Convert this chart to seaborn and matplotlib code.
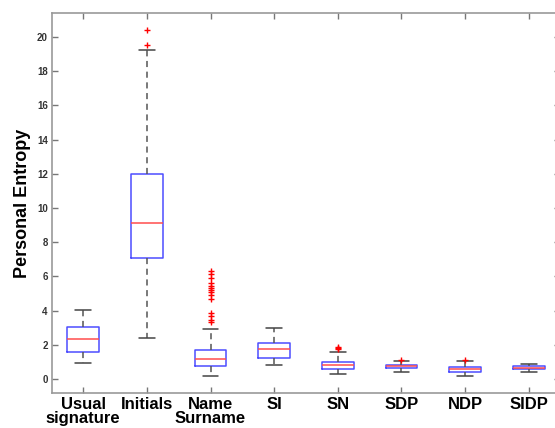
import numpy as np
import pandas as pd
import matplotlib
matplotlib.use("Agg")
import matplotlib.pyplot as plt
import seaborn as sns

categories = ["Usual\nsignature", "Initials", "Name\nSurname", "SI", "SN", "SDP", "NDP", "SIDP"]
whisker_low = [0.95, 2.42, 0.17, 0.82, 0.27, 0.43, 0.19, 0.41]
q1 = [1.58, 7.05, 0.74, 1.23, 0.56, 0.62, 0.43, 0.56]
median = [2.34, 9.14, 1.19, 1.75, 0.80, 0.74, 0.56, 0.66]
q3 = [3.04, 11.99, 1.68, 2.08, 0.97, 0.84, 0.70, 0.74]
whisker_high = [4.03, 19.24, 2.92, 3.00, 1.58, 1.07, 1.07, 0.90]

outlier_cat = ["Initials", "Initials"] + ["Name\nSurname"] * 14 + ["SN"] * 3 + ["SDP", "NDP"]
outlier_val = [20.4, 19.5,
               6.32, 6.14, 5.88, 5.59, 5.43, 5.30, 5.20, 5.10, 4.90, 4.68, 3.84, 3.70, 3.45, 3.33,
               1.75, 1.80, 1.86, 1.10, 1.13]

rows = []
for c, a, b, m, d, e in zip(categories, whisker_low, q1, median, q3, whisker_high):
    for v in (a, b, m, d, e):
        rows.append({"cat": c, "val": v})
box_df = pd.DataFrame(rows)
out_df = pd.DataFrame({"cat": outlier_cat, "val": outlier_val})

sns.set_theme(style="white")
plt.rcParams["font.family"] = ["Liberation Sans", "DejaVu Sans"]

W, H = 555, 428
fig = plt.figure(figsize=(W / 100, H / 100), dpi=100)
ax = fig.add_axes([52 / W, (H - 393) / H, (560 - 52) / W, (393 - 13) / H])

sns.boxplot(data=box_df, x="cat", y="val", order=categories, whis=np.inf, width=0.5,
            fill=False, ax=ax,
            boxprops=dict(color="#4d4dff", linewidth=1.1),
            medianprops=dict(color="#ff4d4d", linewidth=1.1),
            whiskerprops=dict(color="#555555", linestyle=(0, (4, 3)), linewidth=1.1),
            capprops=dict(color="#444444", linewidth=1.1))

sns.stripplot(data=out_df, x="cat", y="val", order=categories, jitter=False,
              marker="+", color="red", size=5, linewidth=1.0, ax=ax)

ax.set_xlim(-0.49, 7.49)
ax.set_ylim(-0.82, 21.4)
ax.set_yticks(np.arange(0, 21, 2))
ax.set_yticklabels([str(v) for v in range(0, 21, 2)], fontsize=7, fontweight="bold", color="#333333")
ax.set_xticks(range(len(categories)))
ax.set_xticklabels(categories, fontsize=12, fontweight="bold", color="black", linespacing=0.9)
ax.tick_params(axis="both", direction="in", length=4, width=1, color="#777777",
               top=True, right=True, bottom=True, left=True)
ax.tick_params(axis="x", pad=3)
ax.tick_params(axis="y", pad=3)
for s in ax.spines.values():
    s.set_visible(True)
    s.set_color("#999999")
    s.set_linewidth(1.2)
ax.set_xlabel("")
ax.set_ylabel("Personal Entropy", fontsize=13, fontweight="bold", color="black", labelpad=4)

fig.savefig("out.png", dpi=100)
